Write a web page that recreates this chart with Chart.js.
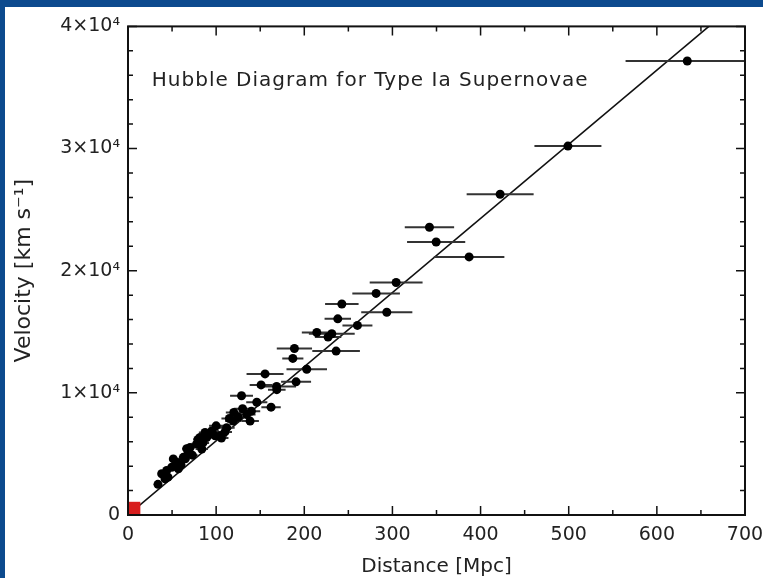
<!DOCTYPE html>
<html>
<head>
<meta charset="utf-8">
<script src="https://cdn.jsdelivr.net/npm/chart.js@4.4.1/dist/chart.umd.min.js"></script>
<style>
html,body{margin:0;padding:0;width:763px;height:578px;overflow:hidden;background:#0c4a8e;}
#panel{position:absolute;left:5px;top:7px;width:800px;height:571px;background:#fff;}
#c{display:block;}
</style>
</head>
<body>
<div id="panel"><canvas id="c" width="800" height="571"></canvas></div>
<script>
// ========== Data ==========
// distance [Mpc], velocity [km/s], horizontal error [Mpc]
const distances=[634.5,499.1,422.2,342,349.6,387,304.2,281.5,242.6,293.6,238,260.3,214.2,231.2,227,188.8,236.1,187,
  202.8,155.5,190.7,151,168.6,168.8,128.8,146.1,162.3,134.7,119.2,138.5,112,104.4,93,81.7,78,66.6,
  34,38.2,42,43.9,45.4,49.6,51.4,55.3,57.1,62.8,68.4,70.4,79.8,83.7,87.4,89.3,95,98.8,106,
  60,65,73,85,100,110,115,120,125,130,140];
const velocities=[37170,30200,26260,23560,22350,21130,19030,18140,17270,16600,16060,15520,14940,14840,14570,13630,13420,12820,
  11930,11550,10900,10650,10530,10260,9760,9230,8830,8230,7690,7690,7150,6480,6640,6340,5830,5430,
  2510,3380,2970,3640,3100,3910,4590,4320,3780,4720,5130,5530,6210,5400,6750,6340,6880,6480,6300,
  4100,4600,4900,5900,7300,6800,7900,8400,8000,8700,8500];
const distErrs=[70,38,38,28,33,40,30,27,19,29,15,17,17,26,15,20,27,12,
  23,21,17,13,22,10,13,12,11,10,9,10,9,8,7,7,6,5,
  3,3,4,4,4,4,4,5,5,5,5,6,6,7,7,7,8,8,8,
  5,5,6,7,8,8,9,9,10,10,10];
const localPoint=[{x:6.8,y:560}];
const H0=60.7;
const xTicks=[0,100,200,300,400,500,600,700];
const yTicks=[0,10000,20000,30000,40000];

const FONT="'DejaVu Sans', sans-serif";

// ========== Build datasets ==========
const points=distances.map((d,i)=>({x:d,y:velocities[i]}));
const errBars=[];
distances.forEach((d,i)=>{
    errBars.push({x:d-distErrs[i],y:velocities[i]});
    errBars.push({x:d+distErrs[i],y:velocities[i]});
    errBars.push({x:d,y:null});
});
const fitLine=[{x:0,y:0},{x:700,y:700*H0}];

// ========== Plugin: frame, inward ticks, label ==========
const frame={
    id:'frame',
    afterDatasetsDraw(chart){
        const {ctx,chartArea:a,scales:{x,y}}=chart;
        ctx.save();
        ctx.strokeStyle='#111';
        ctx.lineWidth=1.5;
        ctx.beginPath();
        for(let v=0;v<=700;v+=50){
            const px=x.getPixelForValue(v), len=v%100===0?9:5;
            ctx.moveTo(px,a.bottom); ctx.lineTo(px,a.bottom-len);
            ctx.moveTo(px,a.top); ctx.lineTo(px,a.top+len);
        }
        for(let v=0;v<=40000;v+=2000){
            const py=y.getPixelForValue(v), len=v%10000===0?9:5;
            ctx.moveTo(a.left,py); ctx.lineTo(a.left+len,py);
            ctx.moveTo(a.right,py); ctx.lineTo(a.right-len,py);
        }
        ctx.stroke();
        ctx.lineWidth=2;
        ctx.strokeRect(a.left,a.top,a.right-a.left,a.bottom-a.top);
        ctx.fillStyle='#222';
        ctx.font='20px '+FONT;
        ctx.letterSpacing='1px';
        ctx.textBaseline='middle';
        ctx.fillText('Hubble Diagram for Type Ia Supernovae',x.getPixelForValue(27),y.getPixelForValue(35550));
        ctx.restore();
    }
};

// ========== Chart ==========
new Chart($('c'),{
    type:'scatter',
    data:{datasets:[
        {label:'local',data:localPoint,pointStyle:'rect',pointRadius:9,backgroundColor:'#d81e1e',borderWidth:0,clip:false},
        {label:'SNe Ia',data:points,pointRadius:4.5,backgroundColor:'#000',borderWidth:0},
        {label:'errors',data:errBars,type:'line',showLine:true,spanGaps:false,borderColor:'#333',borderWidth:2,pointRadius:0},
        {label:'fit',data:fitLine,type:'line',showLine:true,borderColor:'#111',borderWidth:1.6,pointRadius:0}
    ]},
    options:{
        responsive:false,
        animation:false,
        events:[],
        layout:{padding:{left:0,top:14,right:60,bottom:0}},
        plugins:{legend:{display:false},tooltip:{enabled:false}},
        scales:{
            x:{
                type:'linear',min:0,max:700,
                afterFit:s=>{s.height=63;},
                afterBuildTicks:s=>{s.ticks=xTicks.map(v=>({value:v}));},
                grid:{display:false,drawTicks:false},
                border:{display:false},
                ticks:{padding:9,color:'#222',font:{family:FONT,size:19},maxRotation:0},
                title:{display:true,text:'Distance [Mpc]',color:'#222',font:{family:FONT,size:20},padding:{top:0,bottom:-1}}
            },
            y:{
                type:'linear',min:0,max:40000,
                afterFit:s=>{s.width=123;},
                afterBuildTicks:s=>{s.ticks=yTicks.map(v=>({value:v}));},
                grid:{display:false,drawTicks:false},
                border:{display:false},
                ticks:{padding:8,color:'#222',font:{family:FONT,size:19},
                    callback:v=>v===0?'0':(v/10000)+'×10⁴'},
                title:{display:true,text:'Velocity [km s⁻¹]',color:'#222',font:{family:FONT,size:22},padding:{top:6,bottom:0}}
            }
        }
    },
    plugins:[frame]
});

function $(id){return document.getElementById(id);}
</script>
</body>
</html>
